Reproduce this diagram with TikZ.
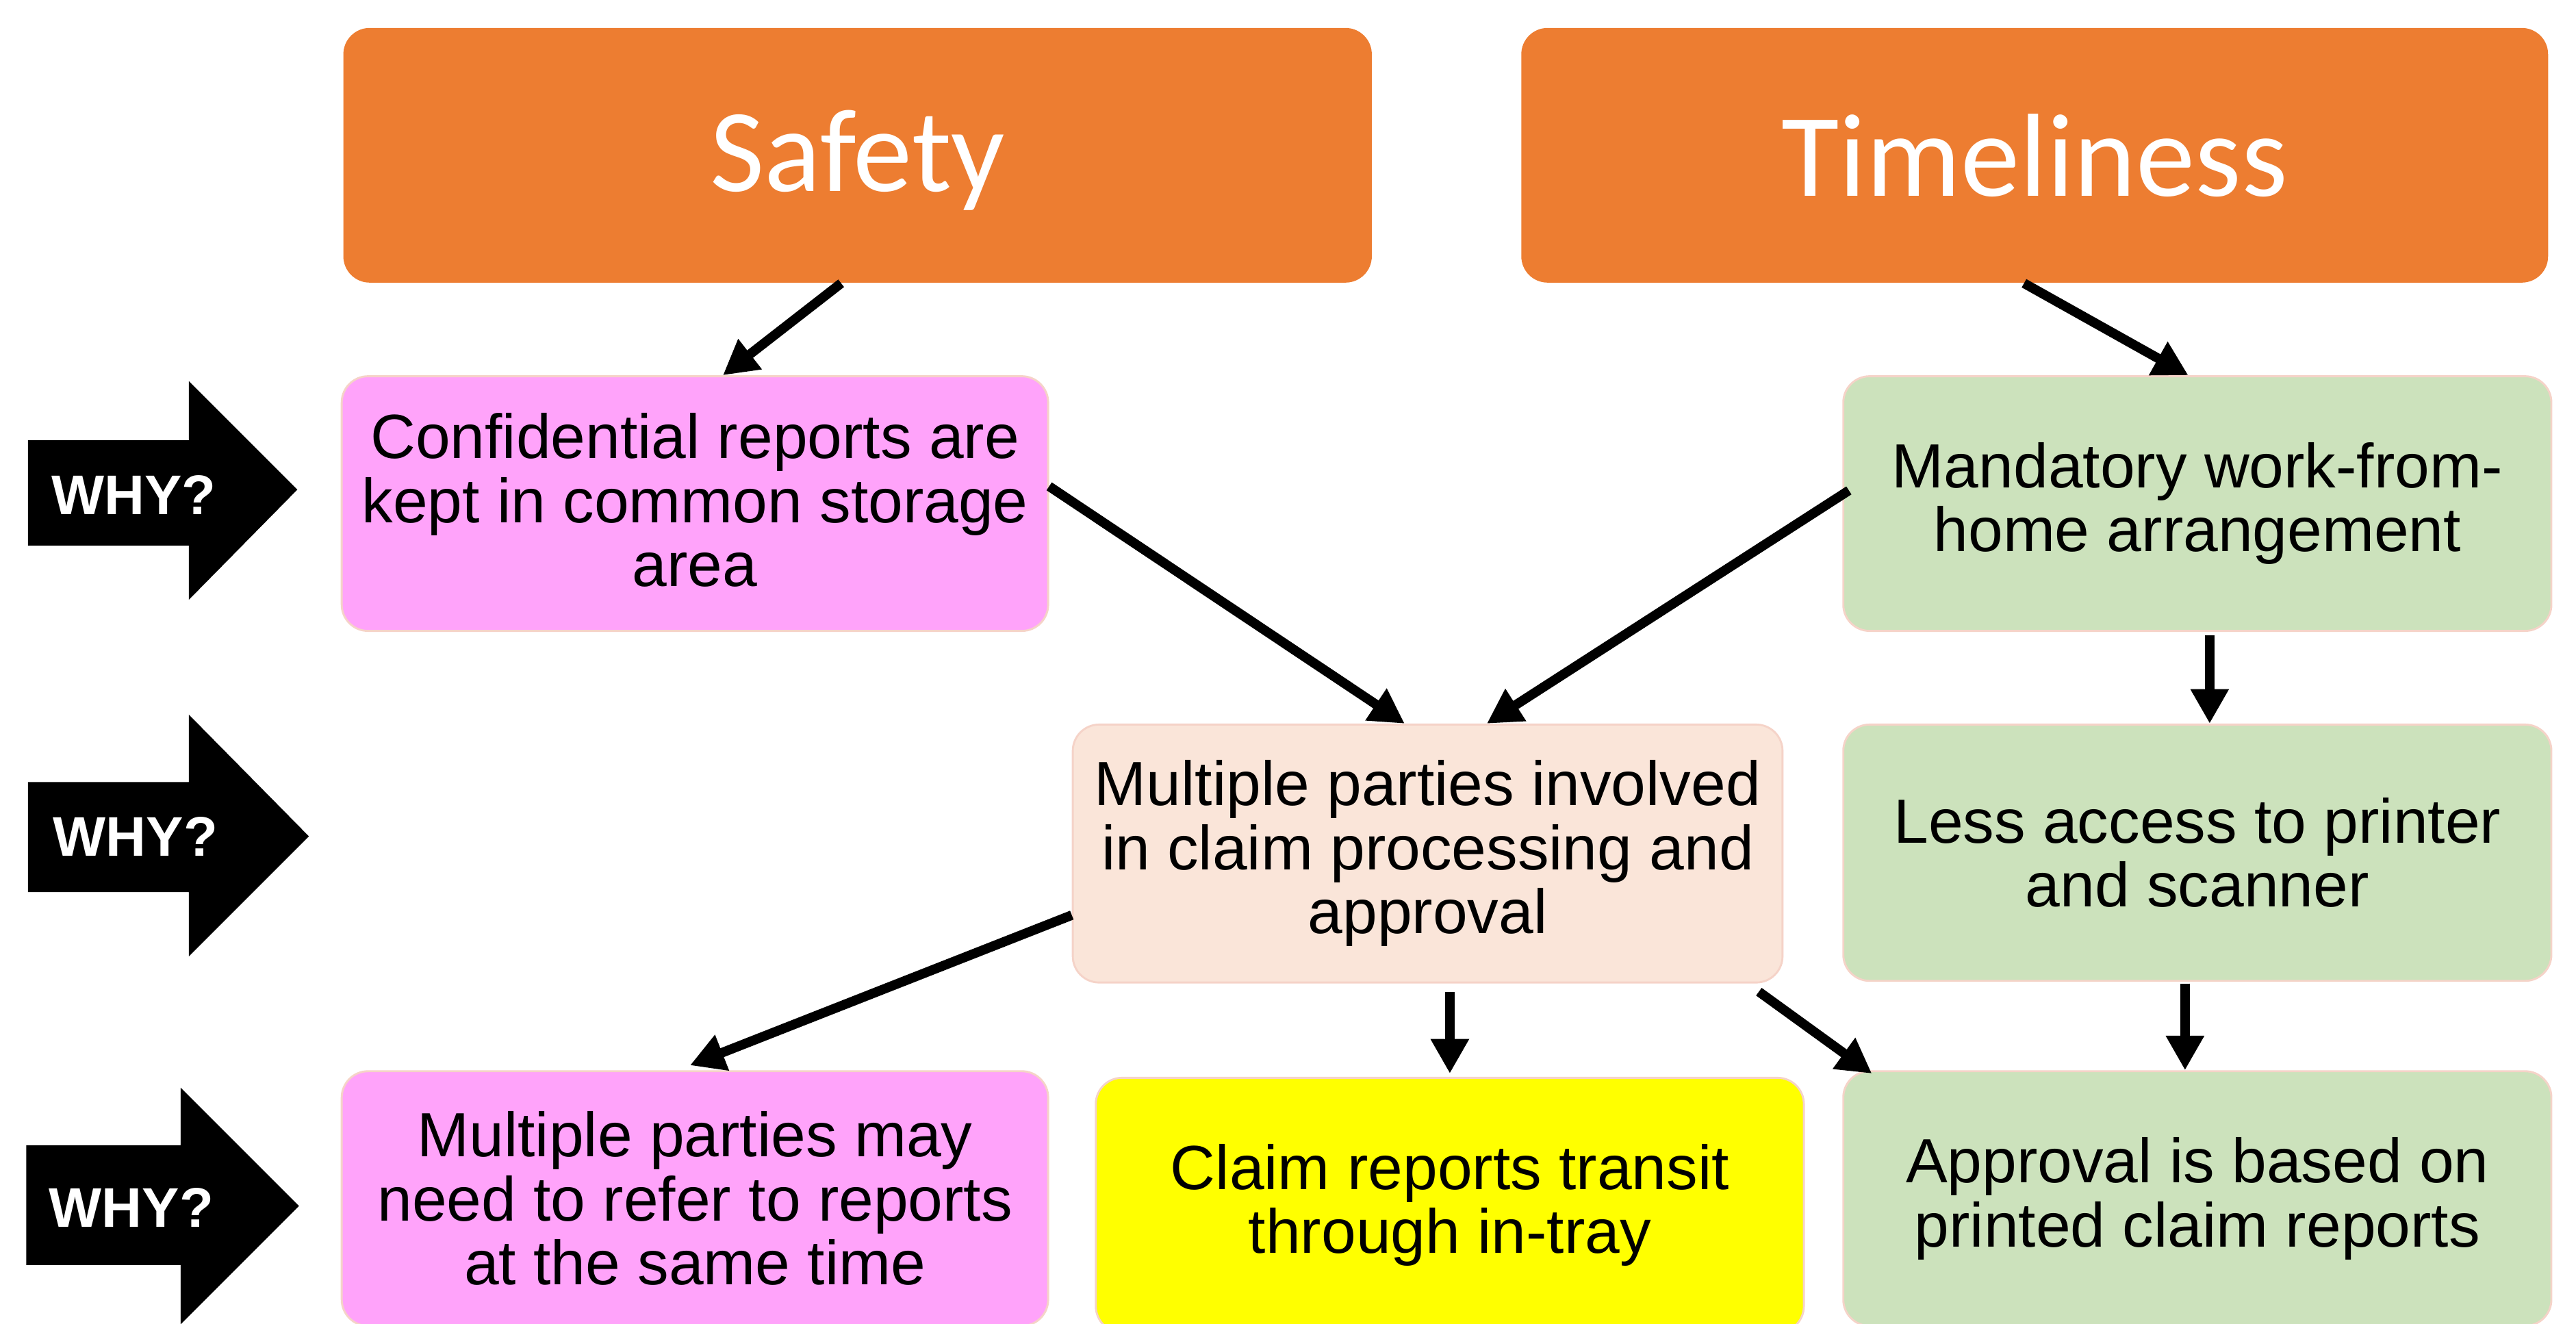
\documentclass[tikz,border=0pt]{standalone}
\usepackage{fontspec}
\setmainfont{Liberation Sans}
\newfontfamily\calfont{Carlito}
\usetikzlibrary{arrows.meta}
\definecolor{orangeC}{HTML}{ED7D31}
\definecolor{pinkC}{HTML}{FFA3FA}
\definecolor{peachC}{HTML}{FAE5D9}
\definecolor{greenC}{HTML}{CCE2BC}
\definecolor{yellowC}{HTML}{FFFF00}
\definecolor{edgeC}{HTML}{F5D3C8}
\begin{document}
\begin{tikzpicture}[x=0.5pt,y=-0.5pt,
  headbox/.style={fill=orangeC, rounded corners=8pt, minimum width=313pt, minimum height=77.5pt,
    inner sep=0pt, text=white, font=\calfont\fontsize{36}{40}\selectfont},
  box/.style={draw=edgeC, line width=0.6pt, rounded corners=8pt, align=center, inner sep=0pt,
    minimum width=215pt, minimum height=77.5pt, font=\fontsize{19}{19.5}\selectfont},
  whytext/.style={text=white, font=\bfseries\fontsize{17}{20}\selectfont, anchor=base, inner sep=0pt},
  arr/.style={-{Triangle[length=10.5pt,width=11pt]}, line width=2.9pt}]
\useasboundingbox (0,0) rectangle (1568,805.5);

% WHY arrows
\fill[black] (17,268) -- (115,268) -- (115,232) -- (181,298) -- (115,365) -- (115,332) -- (17,332) -- cycle;
\fill[black] (17,476) -- (115,476) -- (115,435) -- (188,509) -- (115,582) -- (115,543) -- (17,543) -- cycle;
\fill[black] (16,697) -- (110,697) -- (110,662) -- (182,734) -- (110,806) -- (110,770) -- (16,770) -- cycle;
\node[whytext] (why1) at (81.5,313) {WHY?};
\node[whytext] (why2) at (82.5,521) {WHY?};
\node[whytext] (why3) at (80,747) {WHY?};

% header boxes
\node[headbox] (safety) at (522,94.5) {\raisebox{-1.5pt}[\height][\depth]{Safety}};
\node[headbox, minimum width=312.5pt] (timely) at (1238.5,94.5) {Timeliness};

% row 1
\node[box, fill=pinkC] (conf) at (423,306.5) {\raisebox{1pt}[\height][\depth]{\parbox{215pt}{\centering Confidential reports are\\kept in common storage\\area}}};
\node[box, fill=greenC, minimum width=215.5pt] (mand) at (1337.5,306.5) {Mandatory work-from-\\home arrangement};

% row 2
\node[box, fill=peachC, minimum width=216pt, minimum height=78.5pt] (multi) at (869,519.5) {Multiple parties involved\\in claim processing and\\approval};
\node[box, fill=greenC, minimum width=215.5pt, minimum height=78pt] (less) at (1337.5,519) {Less access to printer\\and scanner};

% row 3
\node[box, fill=pinkC] (may) at (423,729.5) {Multiple parties may\\need to refer to reports\\at the same time};
\node[box, fill=yellowC, minimum width=215.5pt] (claim) at (882.5,733.5) {Claim reports transit\\through in-tray};
\node[box, fill=greenC, minimum width=215.5pt] (appr) at (1337.5,729.5) {Approval is based on\\printed claim reports};

% connectors
\draw[arr] ([xshift=-5pt]safety.south) -- ([xshift=8.5pt]conf.north);
\draw[arr] ([xshift=-3.25pt]timely.south) -- ([xshift=-2.75pt]mand.north);
\draw[arr] ([yshift=5.25pt]conf.east) -- ([xshift=-7pt]multi.north);
\draw[arr] ([xshift=2pt,yshift=4pt]mand.west) -- ([xshift=18pt]multi.north);
\draw[arr] ([xshift=3.75pt,yshift=-1pt]mand.south) -- ([xshift=3.75pt]less.north);
\draw[arr] ([yshift=-18.75pt]multi.west) -- ([xshift=-1.5pt,yshift=1.5pt]may.north);
\draw[arr] ([yshift=-2.5pt]multi.south -| claim.north) -- ([yshift=1pt]claim.north);
\draw[arr] ([xshift=-7.5pt,yshift=-2.5pt]multi.south east) -- ([xshift=9pt,yshift=-1pt]appr.north west);
\draw[arr] ([xshift=-3.75pt,yshift=-0.5pt]less.south) -- ([xshift=-3.75pt]appr.north);
\end{tikzpicture}
\end{document}
